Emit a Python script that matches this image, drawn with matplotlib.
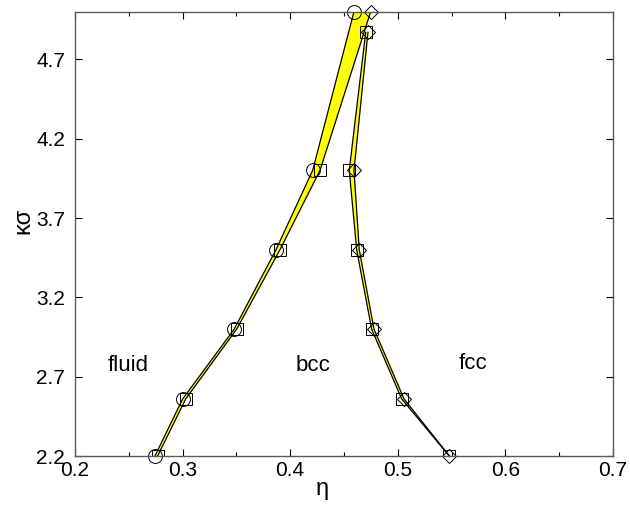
import numpy as np
import matplotlib
matplotlib.use("Agg")
import matplotlib.pyplot as plt
from matplotlib.ticker import MultipleLocator, FixedLocator

plt.rcParams['font.family'] = ['Liberation Sans', 'DejaVu Sans']

# fluid / bcc boundary (left band)
k_left = [2.2, 2.56, 3.0, 3.5, 4.0]
eta_fluid = [0.2743, 0.3001, 0.3480, 0.3868, 0.4209]
eta_bcc_left = [0.2768, 0.3029, 0.3503, 0.3905, 0.4277]

# bcc / fcc boundary (right band)
k_right = [2.2, 2.56, 3.0, 3.5, 4.0, 4.87]
eta_bcc_right = [0.5479, 0.5036, 0.4757, 0.4618, 0.4549, 0.4702]
eta_fcc = [0.5480, 0.5058, 0.4779, 0.4642, 0.4593, 0.4723]

# fluid / fcc coexistence above the triple point
k_top = 5.0
eta_fluid_top = 0.4593
eta_fcc_top = 0.4748

phase_names = ["fluid", "bcc", "fcc"]
phase_eta = [0.249, 0.421, 0.570]
phase_k = [2.77, 2.77, 2.785]

fig = plt.figure(figsize=(6.3, 5.2), dpi=100)
ax = fig.add_axes([0.119, 0.123, 0.854, 0.8545])

# left band: fluid line up to 5.0, bcc line joined to fcc at 5.0
left_k = k_left + [k_top]
left_a = eta_fluid + [eta_fluid_top]
left_b = eta_bcc_left + [eta_fcc_top]
ax.fill_betweenx(left_k, left_a, left_b, color='yellow', lw=0)
ax.plot(left_a, left_k, color='black', lw=0.9)
ax.plot(left_b, left_k, color='black', lw=0.9)

# right band
ax.fill_betweenx(k_right, eta_bcc_right, eta_fcc, color='yellow', lw=0)
ax.plot(eta_bcc_right, k_right, color='black', lw=0.9)
ax.plot(eta_fcc, k_right, color='black', lw=0.9)

# markers
ax.plot(left_a, left_k, 'o', ms=10, mfc='none', mec='black', mew=0.7, clip_on=False)
ax.plot(eta_bcc_left, k_left, 's', ms=8.5, mfc='none', mec='black', mew=0.7)
ax.plot(eta_bcc_right, k_right, 's', ms=8.5, mfc='none', mec='black', mew=0.7)
ax.plot(eta_fcc + [eta_fcc_top], k_right + [k_top], 'D', ms=7, mfc='none',
        mec='black', mew=0.7, clip_on=False)

for name, x, y in zip(phase_names, phase_eta, phase_k):
    ax.text(x, y, name, fontsize=16, ha='center', va='center')

ax.set_xlim(0.2, 0.7)
ax.set_ylim(2.2, 5.0)
ax.xaxis.set_major_locator(MultipleLocator(0.1))
ax.xaxis.set_minor_locator(MultipleLocator(0.05))
ax.yaxis.set_major_locator(FixedLocator([2.2, 2.7, 3.2, 3.7, 4.2, 4.7]))
ax.set_yticklabels(["2.2", "2.7", "3.2", "3.7", "4.2", "4.7"])
ax.tick_params(which='both', direction='in', top=True, right=True, labelsize=15)
ax.tick_params(axis='y', pad=7)
ax.tick_params(which='major', length=5, width=0.8)
ax.tick_params(which='minor', length=3, width=0.8)
for sp in ax.spines.values():
    sp.set_color('0.35')
    sp.set_linewidth(1.0)

ax.set_xlabel("η", fontsize=17)
ax.set_ylabel("κσ", fontsize=17)
ax.xaxis.set_label_coords(0.46, -0.05)
ax.yaxis.set_label_coords(-0.075, 0.53)

fig.savefig("out.png", dpi=100)
